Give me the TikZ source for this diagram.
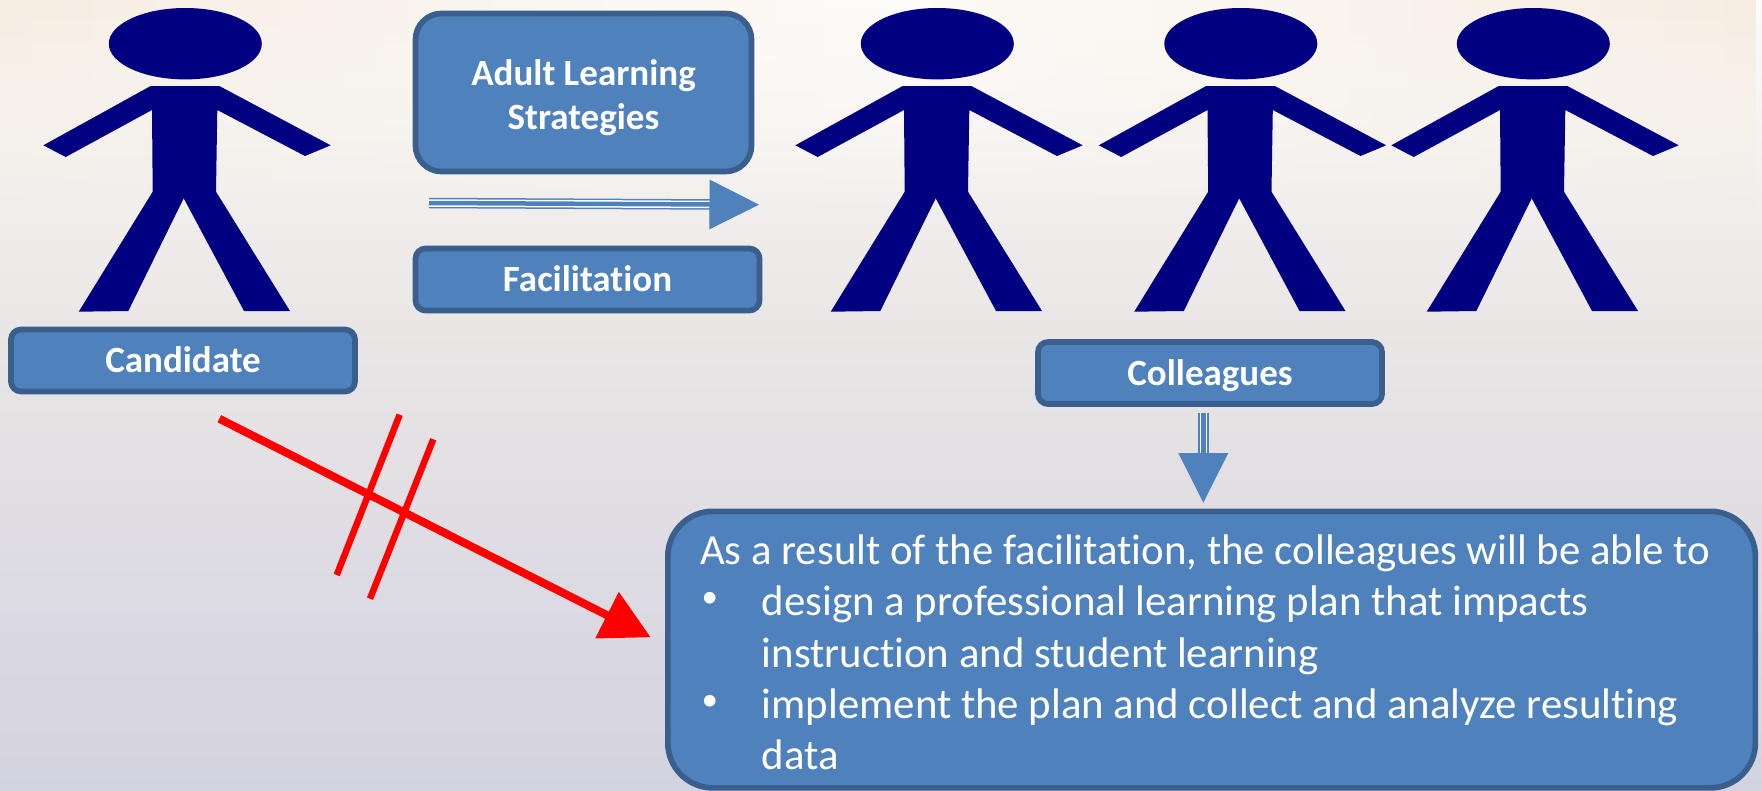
\documentclass[tikz,border=0pt]{standalone}
\usepackage{fontspec}
\setmainfont{Carlito}[Ligatures=NoCommon]
\usetikzlibrary{positioning}
\usetikzlibrary{arrows.meta}
\usetikzlibrary{fadings}
\definecolor{boxfill}{HTML}{4F81BD}
\definecolor{boxline}{HTML}{3A5F8C}
\definecolor{figblue}{HTML}{000080}
\definecolor{bgtop}{HTML}{FDFBF8}
\definecolor{bgtan}{HTML}{F5EDE2}
\definecolor{bgmid}{HTML}{E9E6E5}
\definecolor{bgbot}{HTML}{D3D2E0}
\tikzset{box/.style={draw=boxline, fill=boxfill, line width=5.7pt, rounded corners=10pt, text=white,
font=\fontsize{37}{44.6}\selectfont\bfseries, align=center, inner sep=0pt},
onerow/.style={box, minimum width=344pt, minimum height=62pt, text height=24pt, text depth=0pt},
threeline/.style={draw=boxfill, line width=10.5pt, postaction={draw=white, line width=7.5pt}, postaction={draw=boxfill, line width=4.5pt}},
bluetip/.style={draw=boxfill, line width=1pt, -{Triangle[length=49.5pt, width=49.5pt]}},
redline/.style={draw=red, line width=6.5pt}}
\newcommand{\bulletline}[1]{\makebox[61.7pt][l]{\hspace*{1.5pt}\raisebox{8pt}{\fontsize{33}{33}\selectfont •}}#1}
\begin{document}
\begin{tikzpicture}[x=1pt, y=-1pt]
	\useasboundingbox (0,0) rectangle (1762,790);
	\shade[top color=bgtop, bottom color=bgmid] (0,0) rectangle (1762,330);
	\shade[top color=bgmid, bottom color=bgbot] (0,330) rectangle (1762,790);
	\shade[left color=bgtan, right color=bgtan, middle color=bgtop, path fading=south] (0,0) rectangle (1762,220);

	\foreach \dx in {0,752,1055.5,1348}{
		\begin{scope}[xshift=\dx pt]
			\fill[figblue] (185.3,43.7) ellipse [x radius=76.5, y radius=35.7];
			\fill[figblue] (150.7,86) -- (219.3,86) -- (330.7,145.3) -- (305,156) -- (217.3,110) -- (216,191.7)
				-- (290,311) -- (244,311) -- (183.7,198.3) -- (128.3,311) -- (78.7,311.7) -- (152.7,191.7)
				-- (152,110) -- (65.7,157) -- (43.3,145.3) -- cycle;
		\end{scope}
	}

	\node[onerow] (candidate) at (183,360.5) {Candidate};
	\node[box, minimum width=336pt, minimum height=158pt, rounded corners=26pt] (strategies) at (583.5,92.5) {\rule{0pt}{36pt}Adult Learning\\Strategies};
	\node[onerow] (facilitation) at (587.5,279.5) {Facilitation};
	\node[onerow] (colleagues) at (1210,373) {Colleagues};
	\node[box, minimum width=1087.5pt, minimum height=276.5pt, rounded corners=45pt, anchor=north west] (result) at (665,508.5) {};
	\node[anchor=north west, text=white, align=left, inner sep=0pt, font=\fontsize{42.8}{51.3}\selectfont] (resulttext) at (700,534.5)
		{As a result of the facilitation, the colleagues will be able to\\
		\bulletline{design a professional learning plan that impacts}\\
		\hspace*{61.7pt}instruction and student learning\\
		\bulletline{implement the plan and collect and analyze resulting}\\
		\hspace*{61.7pt}data};

	\coordinate (rightstart) at (429,203);
	\coordinate (rightend) at (759,204.7);
	\draw[threeline, shorten >=49pt] (rightstart) -- (rightend);
	\draw[bluetip] (rightstart) -- (rightend);
	\coordinate (downstart) at (1203.3,412.7);
	\coordinate (downend) at (1203.3,502.7);
	\draw[threeline, shorten >=49pt] (downstart) -- (downend);
	\draw[bluetip] (downstart) -- (downend);

	\coordinate (redstart) at (219.3,418.7);
	\coordinate (redend) at (650.7,637.3);
	\draw[draw=red, line width=8pt, -{Triangle[length=49pt, width=50pt]}] (redstart) -- (redend);
	\coordinate (crossa) at (399.7,414.7);
	\coordinate (crossb) at (336.7,575);
	\coordinate (crossc) at (433.3,439.3);
	\coordinate (crossd) at (370,598.7);
	\draw[redline] (crossa) -- (crossb);
	\draw[redline] (crossc) -- (crossd);
\end{tikzpicture}
\end{document}
